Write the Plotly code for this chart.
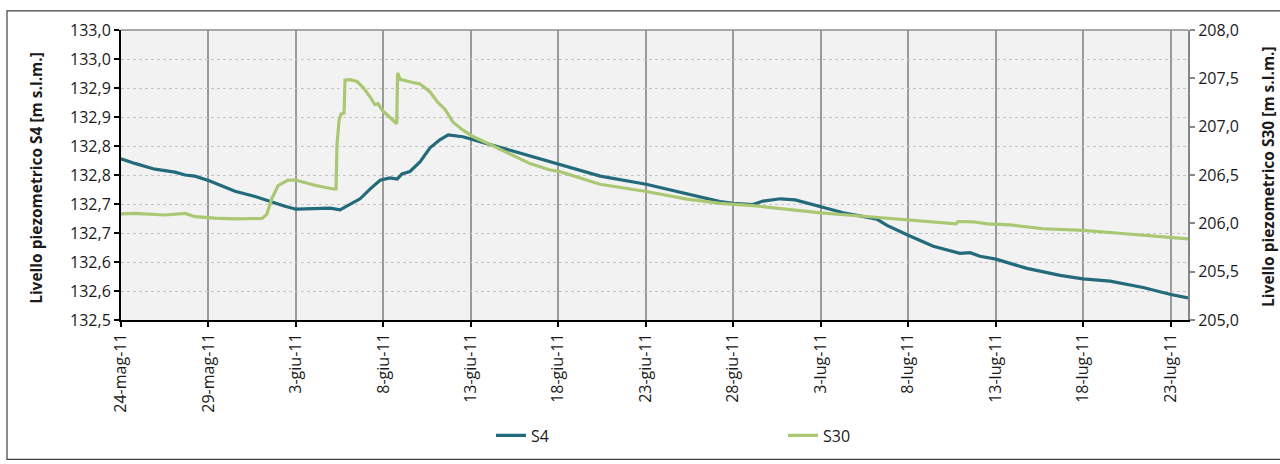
import plotly.graph_objects as go

# Piezometer S4 (left axis)
s4_time = [
    "2011-05-24 00:00", "2011-05-24 19:00", "2011-05-25 22:30", "2011-05-27 02:00",
    "2011-05-27 16:00", "2011-05-28 05:30", "2011-05-29 01:00", "2011-05-30 12:30",
    "2011-05-31 16:00", "2011-06-01 19:00", "2011-06-02 09:00", "2011-06-03 00:00",
    "2011-06-04 02:00", "2011-06-04 23:00", "2011-06-05 12:30", "2011-06-06 02:00",
    "2011-06-06 16:00", "2011-06-07 06:00", "2011-06-07 19:30", "2011-06-08 09:00",
    "2011-06-08 19:00", "2011-06-09 01:30", "2011-06-09 12:30", "2011-06-10 02:30",
    "2011-06-10 16:00", "2011-06-11 06:00", "2011-06-11 17:00", "2011-06-12 13:00",
    "2011-06-13 03:00", "2011-06-14 02:30", "2011-06-15 06:00", "2011-06-16 09:00",
    "2011-06-18 01:00", "2011-06-20 09:30", "2011-06-23 00:30", "2011-06-24 13:30",
    "2011-06-25 17:00", "2011-06-27 06:00", "2011-06-28 00:00", "2011-06-29 03:00",
    "2011-06-29 17:00", "2011-06-30 16:30", "2011-07-01 13:00", "2011-07-03 00:00",
    "2011-07-04 07:00", "2011-07-06 05:00", "2011-07-06 19:00", "2011-07-08 00:00",
    "2011-07-09 10:30", "2011-07-10 23:00", "2011-07-11 13:00", "2011-07-12 02:30",
    "2011-07-13 00:30", "2011-07-14 19:00", "2011-07-16 16:30", "2011-07-18 00:00",
    "2011-07-19 13:00", "2011-07-21 10:30", "2011-07-23 00:30", "2011-07-24 00:00",
]
s4_level = [
    132.778, 132.770, 132.760, 132.755,
    132.750, 132.748, 132.740, 132.722,
    132.713, 132.701, 132.696, 132.691,
    132.692, 132.693, 132.690, 132.699,
    132.709, 132.726, 132.741, 132.745,
    132.743, 132.752, 132.756, 132.773,
    132.797, 132.811, 132.819, 132.816,
    132.811, 132.803, 132.792, 132.783,
    132.769, 132.748, 132.734, 132.723,
    132.715, 132.704, 132.701, 132.699,
    132.705, 132.709, 132.707, 132.696,
    132.685, 132.674, 132.663, 132.646,
    132.627, 132.615, 132.616, 132.610,
    132.605, 132.589, 132.577, 132.571,
    132.567, 132.556, 132.544, 132.538,
]

# Piezometer S30 (right axis)
s30_time = [
    "2011-05-24 00:00", "2011-05-24 19:00", "2011-05-26 12:30", "2011-05-27 16:00",
    "2011-05-28 05:30", "2011-05-29 09:00", "2011-05-30 12:30", "2011-06-01 01:30",
    "2011-06-01 08:00", "2011-06-01 15:00", "2011-06-01 23:30", "2011-06-02 13:00",
    "2011-06-02 23:00", "2011-06-04 02:00", "2011-06-05 03:00", "2011-06-05 07:00",
    "2011-06-05 08:24", "2011-06-05 11:10", "2011-06-05 13:55", "2011-06-05 18:00",
    "2011-06-05 19:25", "2011-06-06 02:10", "2011-06-06 11:50", "2011-06-06 20:00",
    "2011-06-07 05:45", "2011-06-07 12:30", "2011-06-07 16:40", "2011-06-07 23:30",
    "2011-06-08 09:10", "2011-06-08 18:20", "2011-06-08 19:30", "2011-06-08 22:50",
    "2011-06-09 16:40", "2011-06-10 02:20", "2011-06-10 16:00", "2011-06-11 01:40",
    "2011-06-11 12:40", "2011-06-11 23:35", "2011-06-12 13:20", "2011-06-13 03:00",
    "2011-06-14 02:25", "2011-06-15 05:50", "2011-06-16 09:10", "2011-06-17 12:40",
    "2011-06-18 01:00", "2011-06-20 09:20", "2011-06-23 00:30", "2011-06-25 08:40",
    "2011-06-27 06:00", "2011-06-29 03:10", "2011-06-30 16:20", "2011-07-03 00:00",
    "2011-07-05 06:00", "2011-07-08 00:00", "2011-07-10 17:50", "2011-07-10 20:40",
    "2011-07-11 17:00", "2011-07-12 12:15", "2011-07-13 19:55", "2011-07-15 17:15",
    "2011-07-18 00:00", "2011-07-19 13:10", "2011-07-21 10:20", "2011-07-23 00:30",
    "2011-07-24 00:00",
]
s30_level = [
    206.098, 206.102, 206.086, 206.102,
    206.069, 206.053, 206.046, 206.051,
    206.092, 206.256, 206.389, 206.448,
    206.448, 206.394, 206.355, 206.355,
    206.816, 207.063, 207.130, 207.140,
    207.480, 207.487, 207.467, 207.408,
    207.309, 207.227, 207.237, 207.161,
    207.095, 207.030, 207.556, 207.490,
    207.457, 207.441, 207.359, 207.260,
    207.178, 207.046, 206.964, 206.898,
    206.816, 206.717, 206.618, 206.552,
    206.537, 206.404, 206.329, 206.250,
    206.207, 206.184, 206.152, 206.108,
    206.076, 206.033, 205.994, 206.019,
    206.016, 205.994, 205.984, 205.944,
    205.928, 205.905, 205.878, 205.856,
    205.839,
]

date_ticks = [
    "2011-05-24", "2011-05-29", "2011-06-03", "2011-06-08", "2011-06-13",
    "2011-06-18", "2011-06-23", "2011-06-28", "2011-07-03", "2011-07-08",
    "2011-07-13", "2011-07-18", "2011-07-23",
]
date_labels = [
    "24-mag-11", "29-mag-11", "3-giu-11", "8-giu-11", "13-giu-11",
    "18-giu-11", "23-giu-11", "28-giu-11", "3-lug-11", "8-lug-11",
    "13-lug-11", "18-lug-11", "23-lug-11",
]
s4_tick_vals = [132.50, 132.55, 132.60, 132.65, 132.70, 132.75,
                132.80, 132.85, 132.90, 132.95, 133.00]
s4_tick_text = ["132,5", "132,6", "132,6", "132,7", "132,7", "132,8",
                "132,8", "132,9", "132,9", "133,0", "133,0"]
s30_tick_vals = [205.0, 205.5, 206.0, 206.5, 207.0, 207.5, 208.0]
s30_tick_text = ["205,0", "205,5", "206,0", "206,5", "207,0", "207,5", "208,0"]

FONT = "Open Sans"
TXT = "#1a1a1a"
C_S4 = "#236a7b"
C_S30 = "#aac873"

# plot area in pixels
L, R, T, B = 121, 92, 30, 130
W, H = 1280, 464
PW, PH = W - L - R, H - T - B


def px(x):
    return (x - L) / PW


def py(y):
    return (H - B - y) / PH


fig = go.Figure()
fig.add_trace(go.Scatter(x=s4_time, y=s4_level, name="S4", mode="lines",
                         line=dict(color=C_S4, width=3.2), yaxis="y"))
fig.add_trace(go.Scatter(x=s30_time, y=s30_level, name="S30", mode="lines",
                         line=dict(color=C_S30, width=3.2), yaxis="y2"))

fig.update_layout(
    width=W, height=H,
    margin=dict(l=L, r=R, t=T, b=B, pad=0),
    paper_bgcolor="white",
    plot_bgcolor="#f2f2f2",
    font=dict(family=FONT, size=16, color=TXT),
    showlegend=True,
    legend=dict(
        orientation="h", x=px(491), xanchor="left", y=py(455), yanchor="middle",
        font=dict(family=FONT, size=16, color=TXT),
        entrywidth=247, entrywidthmode="pixels",
        bgcolor="rgba(0,0,0,0)", itemwidth=30,
    ),
    xaxis=dict(
        type="date", range=["2011-05-24", "2011-07-24"],
        tickmode="array", tickvals=date_ticks, ticktext=date_labels,
        tickangle=-90, tickfont=dict(family=FONT, size=16, color=TXT),
        ticks="outside", ticklen=5, tickcolor="#000000", tickwidth=1.5,
        showline=True, linecolor="#000000", linewidth=2,
        showgrid=True, gridcolor="#9a9a9a", gridwidth=1.5,
        zeroline=False,
    ),
    yaxis=dict(
        range=[132.5, 133.0],
        tickmode="array", tickvals=s4_tick_vals, ticktext=s4_tick_text,
        tickfont=dict(family=FONT, size=16, color=TXT),
        ticks="outside", ticklen=5, tickcolor="#000000", tickwidth=1.5,
        showline=True, linecolor="#000000", linewidth=2,
        showgrid=True, gridcolor="#c4c4c4", gridwidth=1, griddash="dot",
        zeroline=False,
    ),
    yaxis2=dict(
        range=[205.0, 208.0], overlaying="y", side="right",
        tickmode="array", tickvals=s30_tick_vals, ticktext=s30_tick_text,
        tickfont=dict(family=FONT, size=16, color=TXT),
        ticks="outside", ticklen=5, tickcolor="#868686", tickwidth=1.5,
        showline=True, linecolor="#868686", linewidth=2,
        showgrid=False, zeroline=False,
    ),
    shapes=[
        # top edge of the plotting area
        dict(type="line", xref="paper", yref="paper", x0=0, x1=1, y0=1, y1=1,
             line=dict(color="#8c8c8c", width=1.5)),
        # chart frame
        dict(type="rect", xref="paper", yref="paper",
             x0=px(7), x1=px(1300), y0=py(480), y1=py(10),
             line=dict(color="#404040", width=1.2), fillcolor="rgba(0,0,0,0)"),
    ],
    annotations=[
        dict(text="<b>Livello piezometrico S4 [m s.l.m.]</b>", textangle=-90,
             xref="paper", yref="paper", x=px(36), y=py(185),
             xanchor="center", yanchor="middle", showarrow=False,
             font=dict(family=FONT, size=15.5, color=TXT)),
        dict(text="<b>Livello piezometrico S30 [m s.l.m.]</b>", textangle=-90,
             xref="paper", yref="paper", x=px(1268), y=py(184),
             xanchor="center", yanchor="middle", showarrow=False,
             font=dict(family=FONT, size=15.5, color=TXT)),
    ],
)

fig.write_html("out.html")
